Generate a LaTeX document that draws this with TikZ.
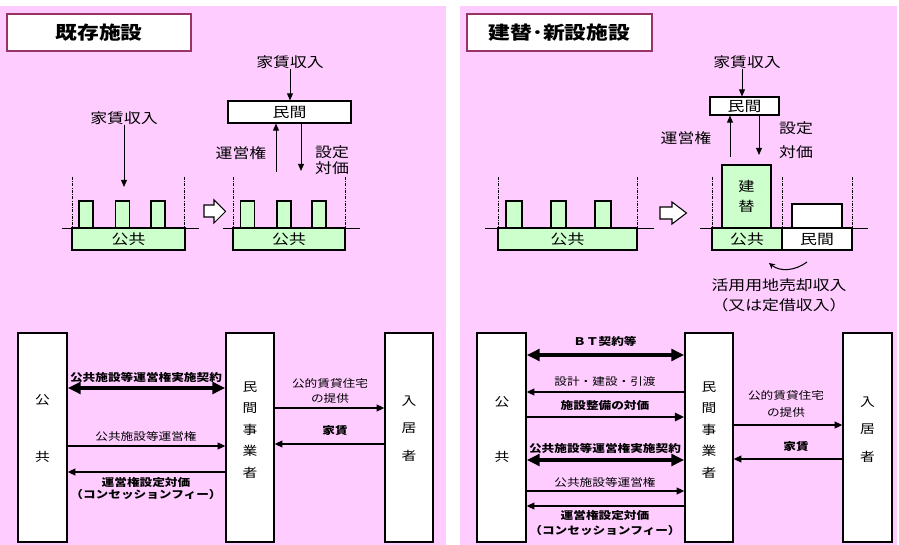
\documentclass[tikz,border=0pt]{standalone}
\usepackage{fontspec}
\setmainfont{Noto Sans CJK JP}[FakeStretch=1.2]
\usetikzlibrary{positioning}
\usetikzlibrary{arrows.meta}
\usepackage{xcolor}
\definecolor{bgpink}{HTML}{FFCCFF}
\definecolor{grn}{HTML}{CCFFCC}
\definecolor{ttlborder}{HTML}{993366}
\newlength\pu
\setlength\pu{0.03cm}

\begin{document}
\begin{tikzpicture}[x=0.03cm, y=-0.03cm,
    txt/.style={inner sep=0pt, align=center, font=\fontsize{12}{14}\selectfont},
    stxt/.style={inner sep=0pt, align=center, font=\fontsize{9}{11}\selectfont},
    sbtxt/.style={inner sep=0pt, align=center, font=\fontsize{9}{11}\selectfont\bfseries},
    vtxt/.style={inner sep=0pt, align=center},
    ttlbox/.style={draw=ttlborder, line width=2pt, fill=white, font=\fontsize{15.5}{18}\selectfont\bfseries},
    wbox/.style={draw, line width=0.9pt, fill=white, inner sep=0pt, font=\fontsize{12}{14}\selectfont},
    grnbox/.style={wbox, fill=grn},
    bigbox/.style={draw, line width=1.4pt, fill=white, inner sep=0pt},
    ground/.style={line width=0.8pt},
    guide/.style={line width=0.6pt, dash pattern=on 2.5pt off 1.2pt on 0.6pt off 1.2pt},
    toparr/.style={-{Triangle[length=6pt,width=5pt]}, line width=0.8pt},
    thinarr/.style={-{Triangle[length=6.5pt,width=6pt]}, line width=1pt},
    midarr/.style={-{Triangle[length=8pt,width=7pt]}, line width=2.2pt},
    thickarr/.style={{Triangle[length=11pt,width=10pt]}-{Triangle[length=11pt,width=10pt]}, line width=3pt},
    hollow/.style={draw, fill=white, line width=0.9pt, line join=miter}]
    \useasboundingbox (0,0) rectangle (899,545);
    \fill[white] (0,0) rectangle (899,545);
    \fill[bgpink] (0,6) rectangle (446,545);
    \fill[bgpink] (460,6) rectangle (897,545);

    % existing facilities
    \node (ttlA) [ttlbox, minimum width=184\pu, minimum height=37\pu] at (99,32.5) {既存施設};

    \node (rentA) [txt] at (124,118) {家賃収入};
    \coordinate (rentAend) at (124,187);
    \draw[toparr] (rentA.south) -- (rentAend);
    \draw[ground] (62,228) -- (199,228);
    \node (pubA) [grnbox, minimum width=113\pu, minimum height=22\pu] at (128.5,239) {公共};
    \foreach \x [count=\i] in {86,122.5,158}
        \node (barA\i) [grnbox, minimum width=14\pu, minimum height=27\pu] at (\x,214.5) {};
    \foreach \x in {72,184}
        \draw[guide] (\x,177) -- (\x,228);

    \draw[hollow] (204,205) -- (214,205) -- (214,200) -- (225.5,211.5) -- (214,223) -- (214,217) -- (204,217) -- cycle;

    \node (rentB) [txt] at (290,62) {家賃収入};
    \node (minB) [wbox, minimum width=123\pu, minimum height=22\pu] at (289.5,112) {民間};
    \draw[toparr] (rentB.south) -- (rentB.south |- minB.north);
    \coordinate (upB) at (276,172);
    \draw[toparr] (upB) -- (upB |- minB.south);
    \coordinate (dnB) at (301,171);
    \draw[toparr] (dnB |- minB.south) -- (dnB);
    \node (kenB) [txt] at (241,153) {運営権};
    \node (taiB) [txt, font=\fontsize{12}{14}\selectfont] at (332,160) {設定\\対価};
    \draw[ground] (223,228) -- (360,228);
    \node (pubB) [grnbox, minimum width=112\pu, minimum height=22\pu] at (289,239) {公共};
    \foreach \x [count=\i] in {247.5,284,319}
        \node (barB\i) [grnbox, minimum width=14\pu, minimum height=27\pu] at (\x,214.5) {};
    \foreach \x in {233,345}
        \draw[guide] (\x,177) -- (\x,228);

    \node (kouA) [bigbox, minimum width=49\pu, minimum height=209\pu] at (42.5,437.5) {};
    \node (kouAt) [vtxt, font=\fontsize{10.5}{48.5}\selectfont] at (42.5,428.5) {公\\共};
    \node (minA) [bigbox, minimum width=48\pu, minimum height=209\pu] at (250,437.5) {};
    \node (minAt) [vtxt, font=\fontsize{10.5}{18.3}\selectfont] at (250,430) {民\\間\\事\\業\\者};
    \node (nyuA) [bigbox, minimum width=48\pu, minimum height=209\pu] at (409,437.5) {};
    \node (nyuAt) [vtxt, font=\fontsize{10.5}{23.5}\selectfont] at (409,428.5) {入\\居\\者};

    \coordinate (yA1) at (0,388);
    \coordinate (yA2) at (0,446);
    \coordinate (yA3) at (0,472);
    \coordinate (yA4) at (0,408);
    \coordinate (yA5) at (0,444);
    \draw[thickarr] (kouA.east |- yA1) -- (minA.west |- yA1);
    \node (cntA) [sbtxt] at (146,377) {公共施設等運営権実施契約};
    \draw[thinarr] (kouA.east |- yA2) -- (minA.west |- yA2);
    \node (rgtA) [stxt] at (146,436) {公共施設等運営権};
    \draw[thinarr] (minA.west |- yA3) -- (kouA.east |- yA3);
    \node (feeA) [sbtxt, font=\fontsize{9}{11}\selectfont\bfseries] at (146,488.5) {運営権設定対価\\（コンセッションフィー）};
    \draw[thinarr] (minA.east |- yA4) -- (nyuA.west |- yA4);
    \node (supA) [stxt, font=\fontsize{9}{13.6}\selectfont] at (330,391) {公的賃貸住宅\\の提供};
    \draw[thinarr] (nyuA.west |- yA5) -- (minA.east |- yA5);
    \node (payA) [sbtxt] at (335,431) {家賃};

    % rebuilt / new facilities
    \node (ttlB) [ttlbox, minimum width=185\pu, minimum height=37\pu] at (559.5,32.5) {建替･新設施設};

    \draw[ground] (485,228) -- (654,228);
    \node (pubC) [grnbox, minimum width=139\pu, minimum height=22\pu] at (567.5,239) {公共};
    \foreach \x/\w [count=\i] in {514/16,558.5/15,603/16}
        \node (barC\i) [grnbox, minimum width=\w\pu, minimum height=27\pu] at (\x,214.5) {};
    \foreach \x in {498,637}
        \draw[guide] (\x,177) -- (\x,228);

    \draw[hollow] (660,207) -- (672,207) -- (672,202) -- (686.5,213) -- (672,224) -- (672,219) -- (660,219) -- cycle;

    \node (rentC) [txt] at (747,62) {家賃収入};
    \node (minC) [wbox, minimum width=69\pu, minimum height=18\pu] at (744.5,106) {民間};
    \coordinate (rentCx) at (742,0);
    \draw[toparr] (rentCx |- rentC.south) -- (rentCx |- minC.north);
    \coordinate (upC) at (730,157);
    \draw[toparr] (upC) -- (upC |- minC.south);
    \coordinate (dnC) at (759,155);
    \draw[toparr] (dnC |- minC.south) -- (dnC);
    \node (kenC) [txt] at (686,138) {運営権};
    \node (taiC) [txt, font=\fontsize{12}{20.4}\selectfont] at (796,140) {設定\\対価};

    \draw[ground] (700,228) -- (868,228);
    \node (tate) [grnbox, minimum width=49\pu, minimum height=63\pu, align=center, font=\fontsize{11.5}{17}\selectfont] at (746.5,196.5) {建\\替};
    \node (newD) [wbox, minimum width=50\pu, minimum height=24\pu] at (817,216) {};
    \node (pubD) [grnbox, minimum width=70\pu, minimum height=22\pu] at (747,239) {公共};
    \node (minD) [wbox, minimum width=70\pu, minimum height=22\pu] at (817,239) {民間};
    \foreach \x in {712,782,852}
        \draw[guide] (\x,177) -- (\x,228);
    \coordinate (saleS) at (807,262);
    \coordinate (saleE) at (769,263);
    \draw[-{Stealth[length=5pt,width=5pt]}, line width=0.9pt] (saleS) .. controls (795,271) and (780,272) .. (saleE);
    \node (saleT) [txt, font=\fontsize{12}{17}\selectfont] at (779,295) {活用用地売却収入\\（又は定借収入）};

    \node (kouC) [bigbox, minimum width=49\pu, minimum height=209\pu] at (501.5,437.5) {};
    \node (kouCt) [vtxt, font=\fontsize{10.5}{47}\selectfont] at (502,429.5) {公\\共};
    \node (minE) [bigbox, minimum width=48\pu, minimum height=209\pu] at (709,437.5) {};
    \node (minEt) [vtxt, font=\fontsize{10.5}{18.3}\selectfont] at (709,430) {民\\間\\事\\業\\者};
    \node (nyuC) [bigbox, minimum width=49\pu, minimum height=209\pu] at (867.5,437.5) {};
    \node (nyuCt) [vtxt, font=\fontsize{10.5}{23.5}\selectfont] at (867.5,429.5) {入\\居\\者};

    \coordinate (yB1) at (0,355);
    \coordinate (yB2) at (0,392);
    \coordinate (yB3) at (0,417);
    \coordinate (yB4) at (0,460);
    \coordinate (yB5) at (0,491);
    \coordinate (yB6) at (0,506);
    \coordinate (yB7) at (0,425);
    \coordinate (yB8) at (0,459);
    \draw[thickarr] (kouC.east |- yB1) -- (minE.west |- yB1);
    \node (btC) [sbtxt] at (605,341) {ＢＴ契約等};
    \draw[thinarr] (minE.west |- yB2) -- (kouC.east |- yB2);
    \node (dsgC) [stxt] at (605,382) {設計・建設・引渡};
    \draw[midarr] (kouC.east |- yB3) -- (minE.west |- yB3);
    \node (payC) [sbtxt] at (605,406) {施設整備の対価};
    \draw[thickarr] (kouC.east |- yB4) -- (minE.west |- yB4);
    \node (cntC) [sbtxt] at (605,448) {公共施設等運営権実施契約};
    \draw[thinarr] (kouC.east |- yB5) -- (minE.west |- yB5);
    \node (rgtC) [stxt] at (605,482) {公共施設等運営権};
    \draw[thinarr] (minE.west |- yB6) -- (kouC.east |- yB6);
    \node (feeC) [sbtxt, font=\fontsize{9}{12}\selectfont\bfseries] at (605,523) {運営権設定対価\\（コンセッションフィー）};
    \draw[thinarr] (minE.east |- yB7) -- (nyuC.west |- yB7);
    \node (supC) [stxt, font=\fontsize{9}{14.5}\selectfont] at (786,403.5) {公的賃貸住宅\\の提供};
    \draw[thinarr] (nyuC.west |- yB8) -- (minE.east |- yB8);
    \node (rentD) [sbtxt] at (796,447) {家賃};
\end{tikzpicture}
\end{document}
